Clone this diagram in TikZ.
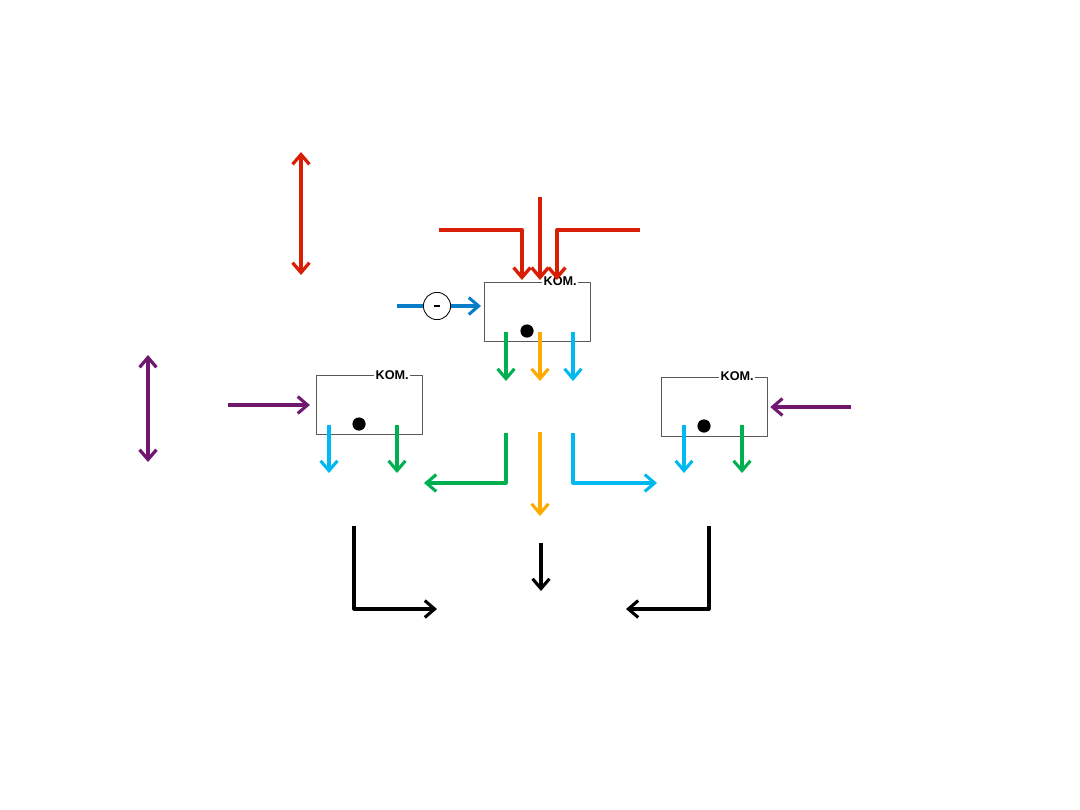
\documentclass[tikz,border=0pt]{standalone}
\usepackage{fontspec}
\setmainfont{Liberation Sans}
\usetikzlibrary{arrows.meta}
\definecolor{kred}{RGB}{216,30,5}
\definecolor{kpurple}{RGB}{112,24,112}
\definecolor{kgreen}{RGB}{0,176,80}
\definecolor{korange}{RGB}{255,170,0}
\definecolor{kcyan}{RGB}{0,185,240}
\definecolor{kblue}{RGB}{10,125,200}
\tikzset{
  kombox/.style={draw=black!65, line width=0.6pt, fill=white, inner sep=0pt,
    minimum width=2.65cm, minimum height=1.475cm},
  komlabel/.style={fill=white, inner sep=1pt, anchor=east,
    font=\bfseries\fontsize{9}{10}\selectfont},
  flow/.style={line width=2.2pt, ->},
  dblflow/.style={line width=2.3pt, <->},
  bigdot/.style={circle, fill=black, inner sep=0pt, minimum size=0.33cm},
}
\begin{document}
\begin{tikzpicture}[x=0.025cm, y=-0.025cm, line join=round, >={Straight Barb[length=7pt,width=12pt]}]
	\useasboundingbox (0,0) rectangle (1080,810);
	% boxes
	\node[kombox] (top) at (537,311.5) {};
	\node[kombox] (left) at (369,405) {};
	\node[kombox] (right) at (714,406.5) {};
	\node[komlabel] (toplbl) at ([xshift=-0.3cm]top.north east) {KOM.};
	\node[komlabel] (leftlbl) at ([xshift=-0.3cm]left.north east) {KOM.};
	\node[komlabel] (rightlbl) at ([xshift=-0.3cm]right.north east) {KOM.};
	\node[bigdot] (topdot) at (527,331) {};
	\node[bigdot] (leftdot) at (359,424) {};
	\node[bigdot] (rightdot) at (704,426) {};
	\node[circle, draw, line width=0.6pt, minimum size=0.68cm, inner sep=0pt] (neg) at (437,306) {\rule{4.5pt}{1.8pt}};
	% free ends
	\coordinate (r1) at (301,152); \coordinate (r2) at (301,275);
	\coordinate (p1) at (148,355); \coordinate (p2) at (148,462);
	\coordinate (redL) at (439,230); \coordinate (redM) at (540,197); \coordinate (redR) at (640,230);
	\coordinate (inL) at (522,280); \coordinate (inM) at (540,280); \coordinate (inR) at (557,280);
	\coordinate (bluein) at (397,306); \coordinate (blueout) at (481,306);
	\coordinate (purL) at (228,405); \coordinate (purR) at (851,407);
	% vertical arrows for the top box
	\draw[flow, kgreen] (506,332) -- (506,381);
	\draw[flow, korange] (540,332) -- (540,381);
	\draw[flow, kcyan] (573,332) -- (573,381);
	% side boxes
	\draw[flow, kcyan] (329,425) -- (329,473);
	\draw[flow, kgreen] (397,425) -- (397,473);
	\draw[flow, kcyan] (684,425) -- (684,473);
	\draw[flow, kgreen] (742,425) -- (742,473);
	% inputs
	\draw[dblflow, kred] (r1) -- (r2);
	\draw[dblflow, kpurple] (p1) -- (p2);
	\draw[flow, kred, line width=2.4pt] (redL) -| (inL);
	\draw[flow, kred, line width=2.4pt] (redM) -- (inM);
	\draw[flow, kred, line width=2.4pt] (redR) -| (inR);
	\draw[line width=2.2pt, kblue] (bluein) -- (neg);
	\draw[flow, kblue] (neg) -- (blueout);
	\draw[flow, kpurple] (purL) -- ([xshift=-4pt]left.west |- purL);
	\draw[flow, kpurple] (purR) -- ([xshift=2pt]right.east |- purR);
	% lower flows
	\draw[flow, kgreen] (506,433) -- (506,483) -- (424,483);
	\draw[flow, korange] (540,432) -- (540,516);
	\draw[flow, kcyan] (573,433) -- (573,483) -- (657,483);
	\draw[flow, black] (354,526) -- (354,609) -- (437,609);
	\draw[flow, black] (541,543) -- (541,591);
	\draw[flow, black] (709,526) -- (709,609) -- (626,609);
\end{tikzpicture}
\end{document}
